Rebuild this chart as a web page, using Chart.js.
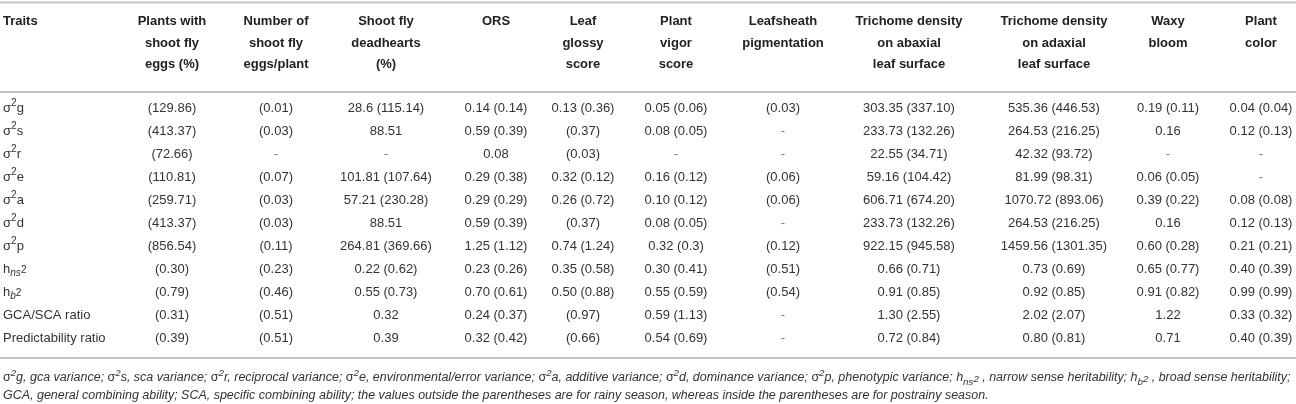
<!DOCTYPE html>
<html lang="en">
<head>
    <meta charset="UTF-8">
    <title>Genetic parameters of shoot fly resistance traits</title>
    <script src="https://cdn.jsdelivr.net/npm/chart.js@4.4.1/dist/chart.umd.min.js"></script>
    <style>
        body {
            margin: 0;
            background: #ffffff;
        }
        .container {
            width: 1296px;
            height: 404px;
            position: relative;
        }
    </style>
</head>
<body>
    <div class="container">
        <canvas id="traitsTable"></canvas>
    </div>

    <script>
        // row labels (^{..} superscript, _{..} subscript)
        const rowLabels = ['σ^{2}g', 'σ^{2}s', 'σ^{2}r', 'σ^{2}e', 'σ^{2}a', 'σ^{2}d', 'σ^{2}p',
            'h_{ns}^{2}', 'h_{b}^{2}', 'GCA/SCA ratio', 'Predictability ratio'];

        const headers = [
            ['Plants with', 'shoot fly', 'eggs (%)'],
            ['Number of', 'shoot fly', 'eggs/plant'],
            ['Shoot fly', 'deadhearts', '(%)'],
            ['ORS'],
            ['Leaf', 'glossy', 'score'],
            ['Plant', 'vigor', 'score'],
            ['Leafsheath', 'pigmentation'],
            ['Trichome density', 'on abaxial', 'leaf surface'],
            ['Trichome density', 'on adaxial', 'leaf surface'],
            ['Waxy', 'bloom'],
            ['Plant', 'color']
        ];

        // rainy season value outside, postrainy inside parentheses
        const plantsEggs = ['(129.86)', '(413.37)', '(72.66)', '(110.81)', '(259.71)', '(413.37)', '(856.54)', '(0.30)', '(0.79)', '(0.31)', '(0.39)'];
        const eggsPerPlant = ['(0.01)', '(0.03)', '-', '(0.07)', '(0.03)', '(0.03)', '(0.11)', '(0.23)', '(0.46)', '(0.51)', '(0.51)'];
        const deadhearts = ['28.6 (115.14)', '88.51', '-', '101.81 (107.64)', '57.21 (230.28)', '88.51', '264.81 (369.66)', '0.22 (0.62)', '0.55 (0.73)', '0.32', '0.39'];
        const ors = ['0.14 (0.14)', '0.59 (0.39)', '0.08', '0.29 (0.38)', '0.29 (0.29)', '0.59 (0.39)', '1.25 (1.12)', '0.23 (0.26)', '0.70 (0.61)', '0.24 (0.37)', '0.32 (0.42)'];
        const leafGlossy = ['0.13 (0.36)', '(0.37)', '(0.03)', '0.32 (0.12)', '0.26 (0.72)', '(0.37)', '0.74 (1.24)', '0.35 (0.58)', '0.50 (0.88)', '(0.97)', '(0.66)'];
        const plantVigor = ['0.05 (0.06)', '0.08 (0.05)', '-', '0.16 (0.12)', '0.10 (0.12)', '0.08 (0.05)', '0.32 (0.3)', '0.30 (0.41)', '0.55 (0.59)', '0.59 (1.13)', '0.54 (0.69)'];
        const leafsheath = ['(0.03)', '-', '-', '(0.06)', '(0.06)', '-', '(0.12)', '(0.51)', '(0.54)', '-', '-'];
        const trichomeAbaxial = ['303.35 (337.10)', '233.73 (132.26)', '22.55 (34.71)', '59.16 (104.42)', '606.71 (674.20)', '233.73 (132.26)', '922.15 (945.58)', '0.66 (0.71)', '0.91 (0.85)', '1.30 (2.55)', '0.72 (0.84)'];
        const trichomeAdaxial = ['535.36 (446.53)', '264.53 (216.25)', '42.32 (93.72)', '81.99 (98.31)', '1070.72 (893.06)', '264.53 (216.25)', '1459.56 (1301.35)', '0.73 (0.69)', '0.92 (0.85)', '2.02 (2.07)', '0.80 (0.81)'];
        const waxyBloom = ['0.19 (0.11)', '0.16', '-', '0.06 (0.05)', '0.39 (0.22)', '0.16', '0.60 (0.28)', '0.65 (0.77)', '0.91 (0.82)', '1.22', '0.71'];
        const plantColor = ['0.04 (0.04)', '0.12 (0.13)', '-', '-', '0.08 (0.08)', '0.12 (0.13)', '0.21 (0.21)', '0.40 (0.39)', '0.99 (0.99)', '0.33 (0.32)', '0.40 (0.39)'];

        const columns = [plantsEggs, eggsPerPlant, deadhearts, ors, leafGlossy, plantVigor,
            leafsheath, trichomeAbaxial, trichomeAdaxial, waxyBloom, plantColor];

        const footnotes = [
            'σ^{2}g, gca variance; σ^{2}s, sca variance; σ^{2}r, reciprocal variance; σ^{2}e, environmental/error variance; σ^{2}a, additive variance; σ^{2}d, dominance variance; σ^{2}p, phenotypic variance; h_{ns}^{2} , narrow sense heritability; h_{b}^{2} , broad sense heritability;',
            'GCA, general combining ability; SCA, specific combining ability; the values outside the parentheses are for rainy season, whereas inside the parentheses are for postrainy season.'
        ];

        // layout (pixels along the x scale, which spans the canvas width)
        const layout = {
            colCenters: [172, 276, 386, 496, 583, 676, 783, 909, 1054, 1168, 1261],
            labelX: 3,
            headerY: [21, 43, 64],
            topRule: 2.5,
            headerRule: 92,
            bottomRule: 358,
            footY: [378, 396]
        };

        const FONT = '"Liberation Sans", Arial, Helvetica, sans-serif';

        function parseRich(str) {
            const segs = [];
            let buf = '';
            let i = 0;
            while (i < str.length) {
                const ch = str[i];
                if ((ch === '^' || ch === '_') && str[i + 1] === '{') {
                    if (buf) { segs.push({ text: buf, kind: 'n' }); buf = ''; }
                    const end = str.indexOf('}', i);
                    segs.push({ text: str.slice(i + 2, end), kind: ch === '^' ? 'sup' : 'sub' });
                    i = end + 1;
                } else {
                    buf += ch;
                    i++;
                }
            }
            if (buf) segs.push({ text: buf, kind: 'n' });
            return segs;
        }

        // split into runs so σ can stay upright inside italic text
        function runs(seg, size, italic) {
            const small = seg.kind !== 'n';
            const sz = small ? size * 0.78 : size;
            const it = seg.kind === 'sub' ? true : italic;
            const parts = seg.text.split(/(σ)/).filter(p => p.length);
            return parts.map(p => ({
                text: p,
                font: ((it && p !== 'σ') ? 'italic ' : '') + sz + 'px ' + FONT,
                kind: seg.kind
            }));
        }

        function drawRich(ctx, str, x, y, size, italic, color) {
            const segs = parseRich(str);
            let cx = x;
            let prev = 'n';
            ctx.fillStyle = color;
            ctx.textAlign = 'left';
            ctx.textBaseline = 'middle';
            segs.forEach(seg => {
                let dy = 0;
                if (seg.kind === 'sup') dy = prev === 'sub' ? size * 0.1 : -size * 0.36;
                if (seg.kind === 'sub') dy = size * 0.34;
                runs(seg, size, italic).forEach(r => {
                    ctx.font = r.font;
                    ctx.fillText(r.text, cx, y + dy);
                    cx += ctx.measureText(r.text).width;
                });
                prev = seg.kind;
            });
            return cx - x;
        }

        function measureRich(ctx, str, size, italic) {
            let w = 0;
            parseRich(str).forEach(seg => {
                runs(seg, size, italic).forEach(r => {
                    ctx.font = r.font;
                    w += ctx.measureText(r.text).width;
                });
            });
            return w;
        }

        const tablePlugin = {
            id: 'tableText',
            afterDatasetsDraw(chart) {
                const { ctx, scales: { x, y } } = chart;
                const width = chart.width;
                ctx.save();

                // rules
                ctx.strokeStyle = '#c4c4c4';
                ctx.lineWidth = 2;
                [layout.topRule, layout.headerRule, layout.bottomRule].forEach(ry => {
                    ctx.beginPath();
                    ctx.moveTo(0, ry);
                    ctx.lineTo(width, ry);
                    ctx.stroke();
                });

                // header
                ctx.fillStyle = '#222';
                ctx.textBaseline = 'middle';
                ctx.font = 'bold 13px ' + FONT;
                ctx.textAlign = 'left';
                ctx.fillText('Traits', layout.labelX, layout.headerY[0]);
                ctx.textAlign = 'center';
                headers.forEach((lines, c) => {
                    const px = x.getPixelForValue(layout.colCenters[c]);
                    lines.forEach((ln, k) => ctx.fillText(ln, px, layout.headerY[k]));
                });

                // row labels
                rowLabels.forEach((lab, i) => {
                    drawRich(ctx, lab, layout.labelX, y.getPixelForValue(i), 13, false, '#333');
                });

                // cells
                const meta = chart.getDatasetMeta(0);
                const cells = chart.data.datasets[0].data;
                ctx.textAlign = 'center';
                ctx.font = '13px ' + FONT;
                meta.data.forEach((pt, i) => {
                    const txt = cells[i].text;
                    ctx.fillStyle = txt === '-' ? '#777' : '#333';
                    ctx.fillText(txt, pt.x, pt.y);
                });

                // footnotes
                const full = measureRich(ctx, footnotes[0], 12.5, true);
                const fsize = Math.min(12.5, 12.5 * (width - 8) / full);
                footnotes.forEach((fn, k) => {
                    drawRich(ctx, fn, layout.labelX, layout.footY[k], fsize, true, '#333');
                });

                ctx.restore();
            }
        };

        const cellData = [];
        columns.forEach((col, c) => {
            col.forEach((val, r) => {
                cellData.push({ x: layout.colCenters[c], y: rowLabels[r], text: val });
            });
        });

        new Chart(document.getElementById('traitsTable'), {
            type: 'scatter',
            data: {
                datasets: [{
                    label: 'cells',
                    data: cellData,
                    pointRadius: 0,
                    pointHoverRadius: 0
                }]
            },
            options: {
                responsive: true,
                maintainAspectRatio: false,
                animation: false,
                events: [],
                layout: {
                    padding: { top: 96.5, bottom: 54.5, left: 0, right: 0 }
                },
                plugins: {
                    legend: { display: false },
                    tooltip: { enabled: false }
                },
                scales: {
                    x: { type: 'linear', min: 0, max: 1296, display: false },
                    y: { type: 'category', labels: rowLabels, offset: true, display: false }
                }
            },
            plugins: [tablePlugin]
        });
    </script>
</body>
</html>
